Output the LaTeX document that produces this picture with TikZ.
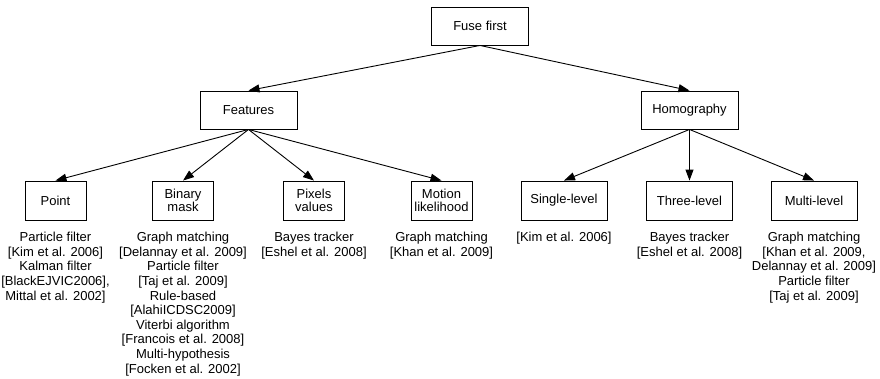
\documentclass[tikz,border=0pt]{standalone}
\usepackage{fontspec}
\setmainfont{Liberation Sans}
\usetikzlibrary{arrows.meta}
\begin{document}
\begin{tikzpicture}[x=1pt,y=-1pt,
  box/.style={draw, line width=0.9pt, minimum height=38pt, inner sep=0pt, align=center,
    font=\fontsize{13}{13.5}\selectfont},
  small/.style={box, minimum width=61pt, minimum height=39pt},
  wide/.style={box, minimum width=86pt, minimum height=39pt},
  top/.style={box, minimum width=97pt},
  lbl/.style={anchor=north, align=center, inner sep=0pt,
    font=\fontsize{13}{14.6}\selectfont},
  arr/.style={line width=0.9pt, -{Triangle[length=11pt,width=8pt]}}]
\useasboundingbox (0,0) rectangle (880,378);

\node[top] (fuse) at (480,26) {Fuse first};
\node[top] (feat) at (248.5,110) {Features};
\node[top] (homo) at (689.5,110) {Homography};

\node[small] (point) at (55.5,200.5) {Point};
\node[small] (binary) at (183,200.5) {Binary\\mask};
\node[small] (pixels) at (314,200.5) {Pixels\\values};
\node[small] (motion) at (441.5,200.5) {Motion\\likelihood};
\node[wide] (single) at (564,200.5) {Single-level};
\node[wide] (three) at (689.5,200.5) {Three-level};
\node[wide] (multi) at (814,200.5) {Multi-level};

\node[lbl] (tpoint) at (55.5,232) {Particle filter\\{}[Kim et al. 2006]\\Kalman filter\\{}[BlackEJVIC2006],\\Mittal et al. 2002]};
\node[lbl] (tbinary) at (183,232) {Graph matching\\{}[Delannay et al. 2009]\\Particle filter\\{}[Taj et al. 2009]\\Rule-based\\{}[AlahiICDSC2009]\\Viterbi algorithm\\{}[Francois et al. 2008]\\Multi-hypothesis\\{}[Focken et al. 2002]};
\node[lbl] (tpixels) at (314,232) {Bayes tracker\\{}[Eshel et al. 2008]};
\node[lbl] (tmotion) at (441.5,232) {Graph matching\\{}[Khan et al. 2009]};
\node[lbl] (tsingle) at (564,232) {[Kim et al. 2006]};
\node[lbl] (tthree) at (689.5,232) {Bayes tracker\\{}[Eshel et al. 2008]};
\node[lbl] (tmulti) at (814,232) {Graph matching\\{}[Khan et al. 2009,\\Delannay et al. 2009]\\Particle filter\\{}[Taj et al. 2009]};

\draw[arr] (fuse.south) -- (feat.north);
\draw[arr] (fuse.south) -- (homo.north);
\foreach \t in {point,binary,pixels,motion}
  \draw[arr] (feat.south) -- (\t.north);
\foreach \t in {single,three,multi}
  \draw[arr] (homo.south) -- (\t.north);
\end{tikzpicture}
\end{document}
